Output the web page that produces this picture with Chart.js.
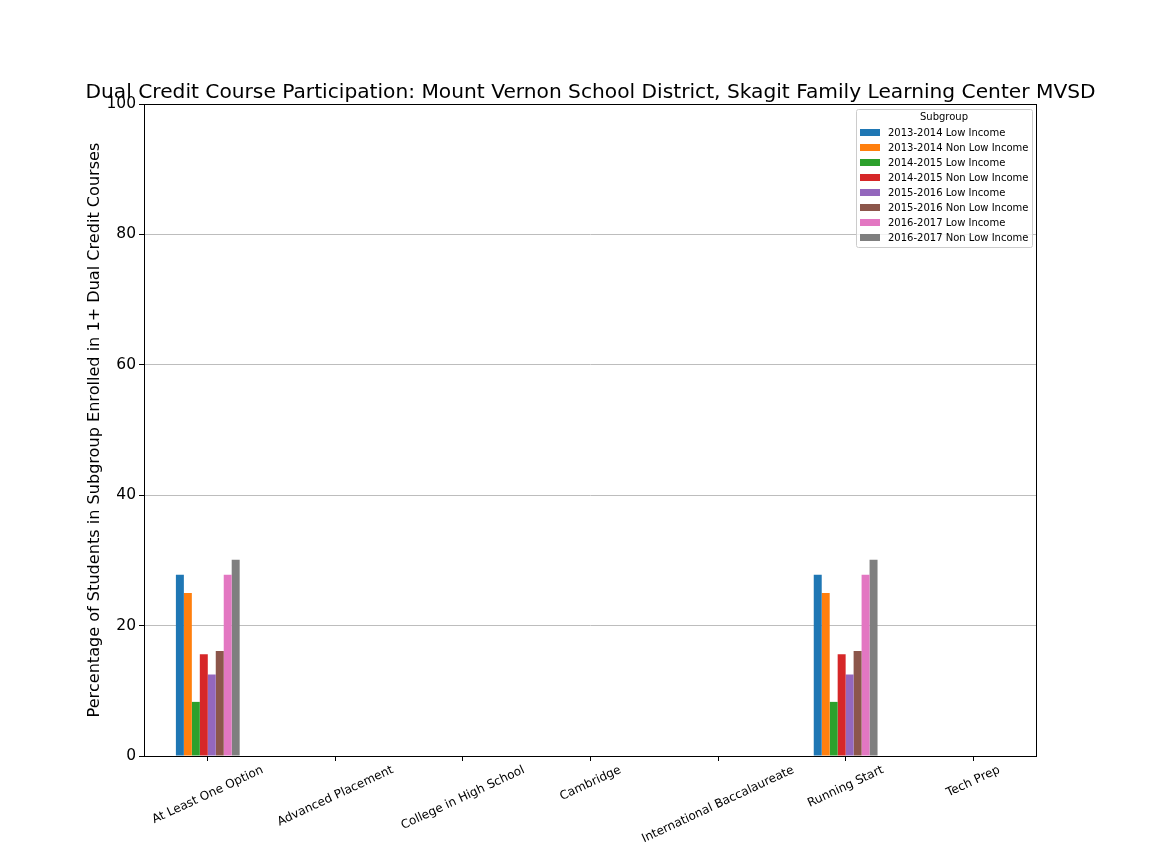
<!DOCTYPE html>
<html>
<head>
<meta charset="utf-8">
<script src="https://cdn.jsdelivr.net/npm/chart.js@4.4.1/dist/chart.umd.min.js"></script>
<style>
  html, body { margin: 0; padding: 0; background: #fff; }
  #wrap { width: 1152px; height: 864px; }
</style>
</head>
<body>
<div id="wrap"><canvas id="chart" width="1152" height="864"></canvas></div>
<script>
// ===== DATA =====
const chartTitle = "Dual Credit Course Participation: Mount Vernon School District, Skagit Family Learning Center MVSD";
const yAxisTitle = "Percentage of Students in Subgroup Enrolled in 1+ Dual Credit Courses";
const legendTitle = "Subgroup";

const categories = [
  "At Least One Option", "Advanced Placement", "College in High School", "Cambridge",
  "International Baccalaureate", "Running Start", "Tech Prep"
];
const yTicks = [0, 20, 40, 60, 80, 100];

const seriesLabels = [
  "2013-2014 Low Income", "2013-2014 Non Low Income",
  "2014-2015 Low Income", "2014-2015 Non Low Income",
  "2015-2016 Low Income", "2015-2016 Non Low Income",
  "2016-2017 Low Income", "2016-2017 Non Low Income"
];
const low1314    = [27.8, 0, 0, 0, 0, 27.8, 0];
const nonLow1314 = [25.0, 0, 0, 0, 0, 25.0, 0];
const low1415    = [8.3, 0, 0, 0, 0, 8.3, 0];
const nonLow1415 = [15.6, 0, 0, 0, 0, 15.6, 0];
const low1516    = [12.5, 0, 0, 0, 0, 12.5, 0];
const nonLow1516 = [16.1, 0, 0, 0, 0, 16.1, 0];
const low1617    = [27.8, 0, 0, 0, 0, 27.8, 0];
const nonLow1617 = [30.1, 0, 0, 0, 0, 30.1, 0];

const seriesValues = [low1314, nonLow1314, low1415, nonLow1415, low1516, nonLow1516, low1617, nonLow1617];
const seriesColors = ["#1f77b4", "#ff7f0e", "#2ca02c", "#d62728", "#9467bd", "#8c564b", "#e377c2", "#7f7f7f"];

const FONT = "'DejaVu Sans', sans-serif";

// draws title, axis title, rotated category labels, frame and legend box
const decorPlugin = {
  id: "decor",
  afterDraw(chart) {
    const ctx = chart.ctx;
    const area = chart.chartArea;
    const xScale = chart.scales.x;
    ctx.save();

    // frame
    ctx.strokeStyle = "#000";
    ctx.lineWidth = 1;
    ctx.strokeRect(area.left + 0.5, area.top + 0.5, area.right - area.left - 1, area.bottom - area.top);

    // title
    ctx.fillStyle = "#000";
    ctx.font = `20.2px ${FONT}`;
    ctx.textAlign = "center";
    ctx.textBaseline = "alphabetic";
    ctx.fillText(chartTitle, (area.left + area.right) / 2, 98);

    // y axis title
    ctx.save();
    ctx.translate(99, (area.top + area.bottom) / 2);
    ctx.rotate(-Math.PI / 2);
    ctx.font = `16.1px ${FONT}`;
    ctx.textBaseline = "alphabetic";
    ctx.fillText(yAxisTitle, 0, 0);
    ctx.restore();

    // x labels, rotated 25deg, centred on the tick
    const ang = 25 * Math.PI / 180;
    ctx.font = `12px ${FONT}`;
    categories.forEach((lab, i) => {
      const x = xScale.getPixelForValue(i);
      const w = ctx.measureText(lab).width;
      const h = 12;
      const bh = w * Math.sin(ang) + h * Math.cos(ang);
      const cy = area.bottom + 8 + bh / 2;
      ctx.save();
      ctx.translate(x, cy);
      ctx.rotate(-ang);
      ctx.textAlign = "center";
      ctx.textBaseline = "middle";
      ctx.fillText(lab, 0, 0);
      ctx.restore();
    });

    // legend
    const lx = 856, ly = 109, lw = 176, lh = 138;
    ctx.fillStyle = "rgba(255,255,255,0.8)";
    ctx.strokeStyle = "#cccccc";
    ctx.lineWidth = 1;
    ctx.beginPath();
    ctx.roundRect(lx + 0.5, ly + 0.5, lw, lh, 2);
    ctx.fill();
    ctx.stroke();
    ctx.fillStyle = "#000";
    ctx.font = `10px ${FONT}`;
    ctx.textAlign = "center";
    ctx.textBaseline = "middle";
    ctx.fillText(legendTitle, lx + lw / 2, 117.5);
    ctx.textAlign = "left";
    chart.data.datasets.forEach((ds, i) => {
      const cy = 132.5 + i * 15;
      ctx.fillStyle = ds.backgroundColor;
      ctx.fillRect(860, cy - 3.5, 20, 7);
      ctx.fillStyle = "#000";
      ctx.fillText(ds.label, 888, cy + 0.5);
    });
    ctx.restore();
  }
};

new Chart(document.getElementById("chart"), {
  type: "bar",
  data: {
    labels: categories,
    datasets: seriesLabels.map((label, i) => ({
      label: label,
      data: seriesValues[i],
      backgroundColor: seriesColors[i],
      borderWidth: 0,
      categoryPercentage: 0.5,
      barPercentage: 1.0
    }))
  },
  options: {
    responsive: false,
    animation: false,
    devicePixelRatio: 1,
    layout: { padding: { left: 0, right: 115, top: 104, bottom: 0 } },
    plugins: {
      legend: { display: false },
      title: { display: false },
      tooltip: { enabled: false }
    },
    scales: {
      x: {
        grid: { display: true, drawOnChartArea: false, offset: false, tickLength: 5, tickColor: "#000" },
        border: { display: false },
        ticks: { display: false },
        afterFit(scale) { scale.height = 108; }
      },
      y: {
        min: 0,
        max: 100,
        afterBuildTicks(scale) { scale.ticks = yTicks.map(v => ({ value: v })); },
        grid: { color: "#bdbdbd", lineWidth: 1, tickLength: 5, tickColor: "#000" },
        border: { display: false },
        ticks: {
          color: "#000",
          padding: 3,
          font: { family: FONT, size: 15.5 }
        },
        afterFit(scale) { scale.width = 144; }
      }
    }
  },
  plugins: [decorPlugin]
});
</script>
</body>
</html>
